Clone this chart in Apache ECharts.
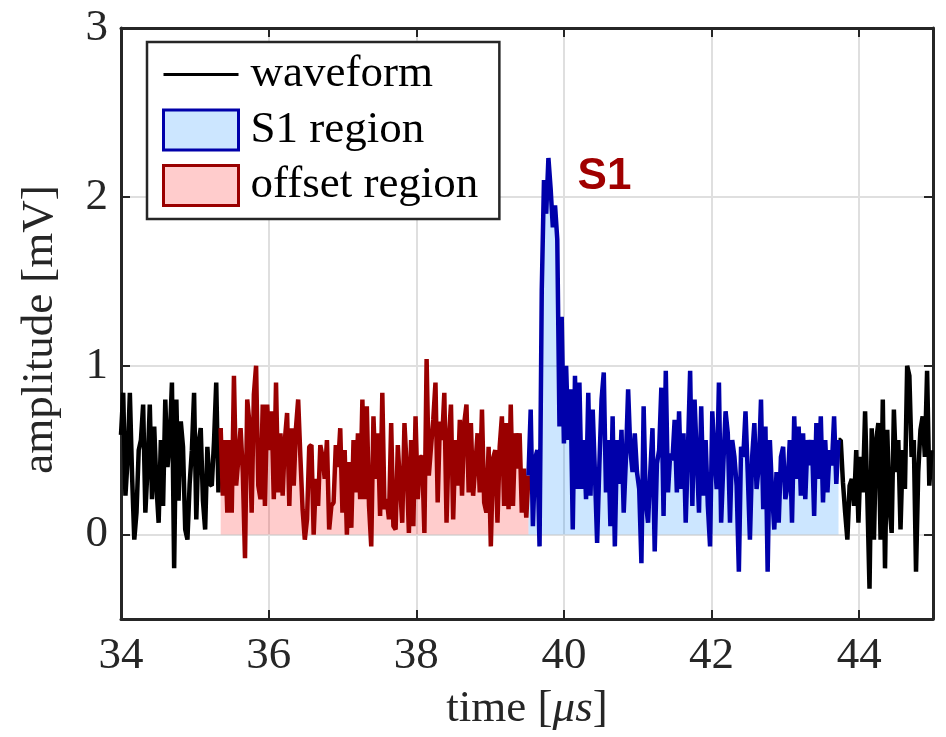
<!DOCTYPE html>
<html><head><meta charset="utf-8">
<script src="https://cdn.jsdelivr.net/npm/echarts@6/dist/echarts.min.js"></script>
<style>html,body{margin:0;padding:0;background:#fff}#c{width:946px;height:737px}</style>
</head><body><div id="c"></div>
<script>
// sampled waveform: start time [us], sample step [us]
const timeStart = 34.0;
const timeStep = 0.03;
const amplitude = [
  0.59,0.84,0.23,0.45,0.84,0.35,-0.03,0.13,0.5,0.56, 0.77,0.13,0.4,0.77,0.21,0.64,0.29,0.07,0.56,0.17,
  0.8,0.4,0.56,0.9,-0.2,0.8,0.2,0.67,0.52,0.03, -0.03,0.3,0.5,0.84,0.09,0.54,0.63,0.2,0.03,0.52,
  0.3,0.29,0.55,0.9,0.25,
  0.63,0.23,0.56,0.13,0.56, 0.13,0.94,0.29,0.45,0.63, 0.37,-0.14,0.8,0.66,0.13, 0.83,1.0,0.29,0.21,0.77,
  0.17,0.77,0.5,0.73,0.21, 0.9,0.25,0.6,0.23,0.56, 0.72,0.17,0.63,0.29,0.63, 0.8,0.46,0.15,-0.03,0.09,
  0.52,0.53,0.0,0.33,0.17, 0.53,0.46,0.33,0.56,0.03,
  0.17,0.19,0.53,0.4,0.63, 0.13,0.5,0.0,0.43,0.04, 0.56,0.25,0.6,0.21,0.8, 0.21,0.76,0.17,-0.07,0.7,
  0.33,0.6,0.11,0.84,0.15, 0.21,0.09,0.66,0.05,0.03, 0.53,0.29,0.07,0.66,0.4, 0.01,0.56,0.05,0.7,0.21,
  0.46,0.46,0.01,1.04,0.35, 0.52,0.68,0.9,0.19,0.67,
  0.56,0.84,0.07,0.56,0.77, 0.09,0.56,0.29,0.68,0.23, 0.66,0.77,0.25,0.66,0.23, 0.41,0.6,0.25,0.74,0.19,
  0.13,0.52,-0.07,0.45,0.5, 0.07,0.52,0.7,0.17,0.66, 0.15,0.77,0.17,0.6,0.39, 0.6,0.13,0.39,0.1,0.35,
  0.74,0.05,0.45,0.5,-0.07, 1.45,2.1,1.9,2.23,2.05, 1.82,1.95,1.75,0.64,1.29, 0.54,1.0,0.56,0.86,0.03,
  0.94,0.27,0.9,0.27,0.56, 0.21,0.84,0.23,0.74,0.37, -0.05,0.41,0.8,0.96,0.25, 0.56,0.05,0.7,-0.07,0.56,
  0.3,0.62,0.13,0.45,0.86, 0.5,0.37,0.6,0.37,0.27,
  -0.17,0.76,0.19,0.07,0.37, 0.63,-0.1,0.42,0.5,0.87, 0.11,0.97,0.25,0.48,0.44, 0.68,0.25,0.73,0.27,0.6,
  0.07,0.5,0.97,0.17,0.8, 0.46,0.13,0.76,0.23,0.56, 0.17,-0.07,0.73,0.46,0.27, 0.9,0.07,0.42,0.73,0.6,
  0.07,0.56,0.46,0.29,-0.22, 0.52,0.46,0.73,0.37,-0.03,
  0.46,0.66,0.27,0.41,0.8, 0.15,0.64,-0.22,0.56,0.25, 0.03,0.37,0.07,0.46,0.52, 0.21,0.29,0.56,0.07,0.7,
  0.33,0.64,0.23,0.6,0.21, 0.56,0.41,0.56,0.11,0.66, 0.33,0.7,0.19,0.56,0.25, 0.5,0.41,0.7,0.3,0.56,
  0.56,0.31,0.13,-0.03,0.29, 0.33,0.17,0.5,0.07,0.46, 0.25,0.73,0.23,-0.32,0.63, -0.03,0.56,0.66,-0.03,0.8,
  -0.2,0.62,0.17,0.01,0.74, 0.37,0.56,0.03,0.5,0.27, 1.0,0.94,0.46,0.56,-0.22, 0.37,0.62,0.7,0.46,0.97,
  0.29,0.5
];
const offsetRegion = [35.35, 39.52];
const s1Region = [39.52, 43.72];
const xTicks = [34, 36, 38, 40, 42, 44];
const yTicks = [0, 1, 2, 3];
const s1Annotation = { text: 'S1', time: 40.55, amp: 2.12 };

const serif = '"Liberation Serif","Times New Roman",serif';
const axisColor = '#262626';
const eps = 1e-6;
const times = amplitude.map((_, i) => +(timeStart + i * timeStep).toFixed(3));
const black = [], red = [], blue = [];
times.forEach((t, i) => {
  const v = amplitude[i];
  black.push([t, (t <= offsetRegion[0] + eps || t >= s1Region[1] - eps) ? v : null]);
  if (t >= offsetRegion[0] - eps && t <= offsetRegion[1] + eps) red.push([t, v]);
  if (t >= s1Region[0] - eps && t <= s1Region[1] + eps) blue.push([t, v]);
});

const frameLine = { show: true, onZero: false, lineStyle: { color: axisColor, width: 3 } };
const tickStyle = (vals) => ({ show: true, inside: true, length: 9, customValues: vals, lineStyle: { color: axisColor, width: 2 } });
const gridLine = { show: true, lineStyle: { color: '#dfdfdf', width: 2 } };
const LW = 4.5;

const chart = echarts.init(document.getElementById('c'), null, { renderer: 'canvas' });
chart.setOption({
  animation: false,
  backgroundColor: '#fff',
  grid: { left: 121, right: 13, top: 28, bottom: 117, containLabel: false },
  xAxis: [
    { type: 'value', min: 34, max: 45, position: 'bottom',
      axisLine: frameLine, axisTick: tickStyle(xTicks),
      axisLabel: { customValues: xTicks, fontFamily: serif, fontSize: 45, color: axisColor, margin: 15 },
      splitLine: gridLine,
      name: '{a|time [}{i|μs}{a|]}', nameLocation: 'middle', nameGap: 68,
      nameTextStyle: { rich: {
        a: { fontFamily: serif, fontSize: 45, color: axisColor },
        i: { fontFamily: serif, fontSize: 45, fontStyle: 'italic', color: axisColor } } } },
    { type: 'value', min: 34, max: 45, position: 'top',
      axisLine: frameLine, axisTick: tickStyle(xTicks), axisLabel: { show: false }, splitLine: { show: false } }
  ],
  yAxis: [
    { type: 'value', min: -0.5, max: 3, position: 'left',
      axisLine: frameLine, axisTick: tickStyle(yTicks),
      axisLabel: { customValues: yTicks, fontFamily: serif, fontSize: 45, color: axisColor, margin: 13 },
      splitLine: gridLine,
      name: 'amplitude [mV]', nameLocation: 'middle', nameRotate: 90, nameGap: 58,
      nameTextStyle: { fontFamily: serif, fontSize: 45, color: axisColor, padding: [0, 12, 0, 0] } },
    { type: 'value', min: -0.5, max: 3, position: 'right',
      axisLine: frameLine, axisTick: tickStyle(yTicks), axisLabel: { show: false }, splitLine: { show: false } }
  ],
  legend: {
    show: true, orient: 'vertical', left: 147, top: 42, selectedMode: false,
    backgroundColor: '#fff', borderColor: axisColor, borderWidth: 2.5, borderRadius: 0,
    padding: [10, 21, 11, 15], itemWidth: 75, itemHeight: 40, itemGap: 10.5,
    textStyle: { fontFamily: serif, fontSize: 45, lineHeight: 40, color: '#000', padding: [0, 0, 0, 7] },
    data: [
      { name: 'waveform', icon: 'path://M0,0H75V3H0Z', itemStyle: { color: '#000', borderWidth: 0 } },
      { name: 'S1 region', icon: 'rect', itemStyle: { color: '#cce6ff', borderColor: '#0000aa', borderWidth: 3 } },
      { name: 'offset region', icon: 'rect', itemStyle: { color: '#ffcccc', borderColor: '#990000', borderWidth: 3 } }
    ]
  },
  series: [
    { name: 'waveform', type: 'line', data: black, showSymbol: false, connectNulls: false, z: 2,
      lineStyle: { color: '#000', width: LW }, itemStyle: { color: '#000' } },
    { name: 'offset region', type: 'line', data: red, showSymbol: false, z: 3,
      lineStyle: { color: '#9a0000', width: LW }, itemStyle: { color: '#9a0000' },
      areaStyle: { color: 'rgba(255,0,0,0.2)', opacity: 1 } },
    { name: 'S1 region', type: 'line', data: blue, showSymbol: false, z: 3,
      lineStyle: { color: '#0000aa', width: LW }, itemStyle: { color: '#0000aa' },
      areaStyle: { color: 'rgba(0,128,255,0.2)', opacity: 1 },
      markPoint: { symbol: 'rect', symbolSize: 1, silent: true,
        itemStyle: { color: 'rgba(0,0,0,0)' },
        label: { show: true, position: 'inside', formatter: s1Annotation.text,
          fontFamily: '"Liberation Sans",Arial,sans-serif', fontWeight: 'bold', fontSize: 44, color: '#a00000' },
        data: [{ coord: [s1Annotation.time, s1Annotation.amp] }] } }
  ]
});
</script></body></html>
